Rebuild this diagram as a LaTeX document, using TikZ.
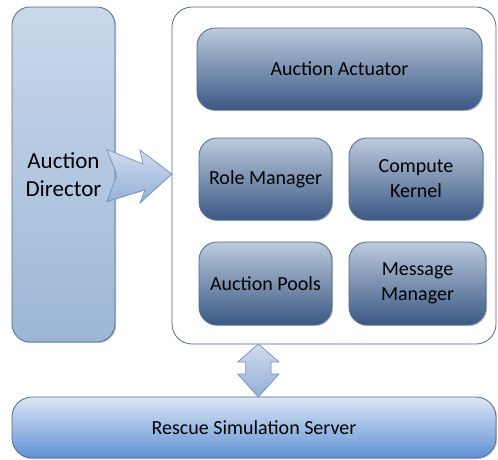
\documentclass[tikz,border=0pt]{standalone}
\usepackage{fontspec}
\setmainfont{Carlito}
\usetikzlibrary{shadows}
\definecolor{brd}{HTML}{4F6B8F}
\definecolor{dirtop}{HTML}{C9D8EA}
\definecolor{dirbot}{HTML}{9DB6D6}
\definecolor{modtop}{HTML}{BCCADC}
\definecolor{modbot}{HTML}{3A5884}
\definecolor{srvtop}{HTML}{DCE7F5}
\definecolor{srvbot}{HTML}{5F90D4}
\definecolor{arrtop}{HTML}{CFDCEE}
\definecolor{arrbot}{HTML}{93AFD6}
\definecolor{arrbrd}{HTML}{7690B5}
\tikzset{
  base/.style={draw=brd, line width=0.8pt, inner sep=0pt, outer sep=0pt, align=center,
    drop shadow={shadow xshift=1.2pt, shadow yshift=-1.2pt, opacity=0.35, fill=black!60}},
  director/.style={base, rounded corners=18pt, top color=dirtop, bottom color=dirbot, font=\fontsize{23}{28}\selectfont},
  container/.style={draw=brd, line width=0.8pt, fill=white, rounded corners=20pt, inner sep=0pt, outer sep=0pt},
  module/.style={base, rounded corners=18pt, top color=modtop, bottom color=modbot, font=\fontsize{20}{25}\selectfont},
  server/.style={base, rounded corners=20pt, top color=srvtop, bottom color=srvbot, font=\fontsize{20}{24}\selectfont},
  blockarrow/.style={draw=arrbrd, line width=0.7pt, top color=arrtop, bottom color=arrbot, line join=miter}
}
\begin{document}
\begin{tikzpicture}[x=1pt, y=-1pt]
\useasboundingbox (0,0) rectangle (498,459);
\node[director, minimum width=103pt, minimum height=335pt] (dir) at (63.5,174.5) {Auction\\Director};
\node[container, minimum width=324pt, minimum height=337pt] (cont) at (334,175.5) {};
\node[module, minimum width=285pt, minimum height=82pt] (act) at (339.5,69) {Auction Actuator};
\node[module, minimum width=133pt, minimum height=82pt] (role) at (265.5,179) {Role Manager};
\node[module, minimum width=134pt, minimum height=82pt] (kern) at (416,179) {Compute\\Kernel};
\node[module, minimum width=133pt, minimum height=83pt] (pool) at (265.5,283.5) {Auction Pools};
\node[module, minimum width=137pt, minimum height=83pt] (msg) at (417.5,283.5) {Message\\Manager};
\node[server, minimum width=484pt, minimum height=61pt] (srv) at (254,427.5) {Rescue Simulation Server};
\coordinate (tipy) at (0,174);
\coordinate (vx) at (258.3,0);
% arrow Director -> container
\draw[blockarrow] (106.7,149.3) -- (143,164) -- (140,150) -- (cont.west |- tipy) -- (140,203) -- (145,190) -- (106.7,201.7) -- (117,175) -- cycle;
% double arrow container <-> server
\draw[blockarrow] (cont.south -| vx) -- (237.7,362) -- (245.7,362) -- (245.7,374) -- (237.7,374) -- (srv.north -| vx) -- (279,374) -- (271,374) -- (271,362) -- (279,362) -- cycle;
\end{tikzpicture}
\end{document}
